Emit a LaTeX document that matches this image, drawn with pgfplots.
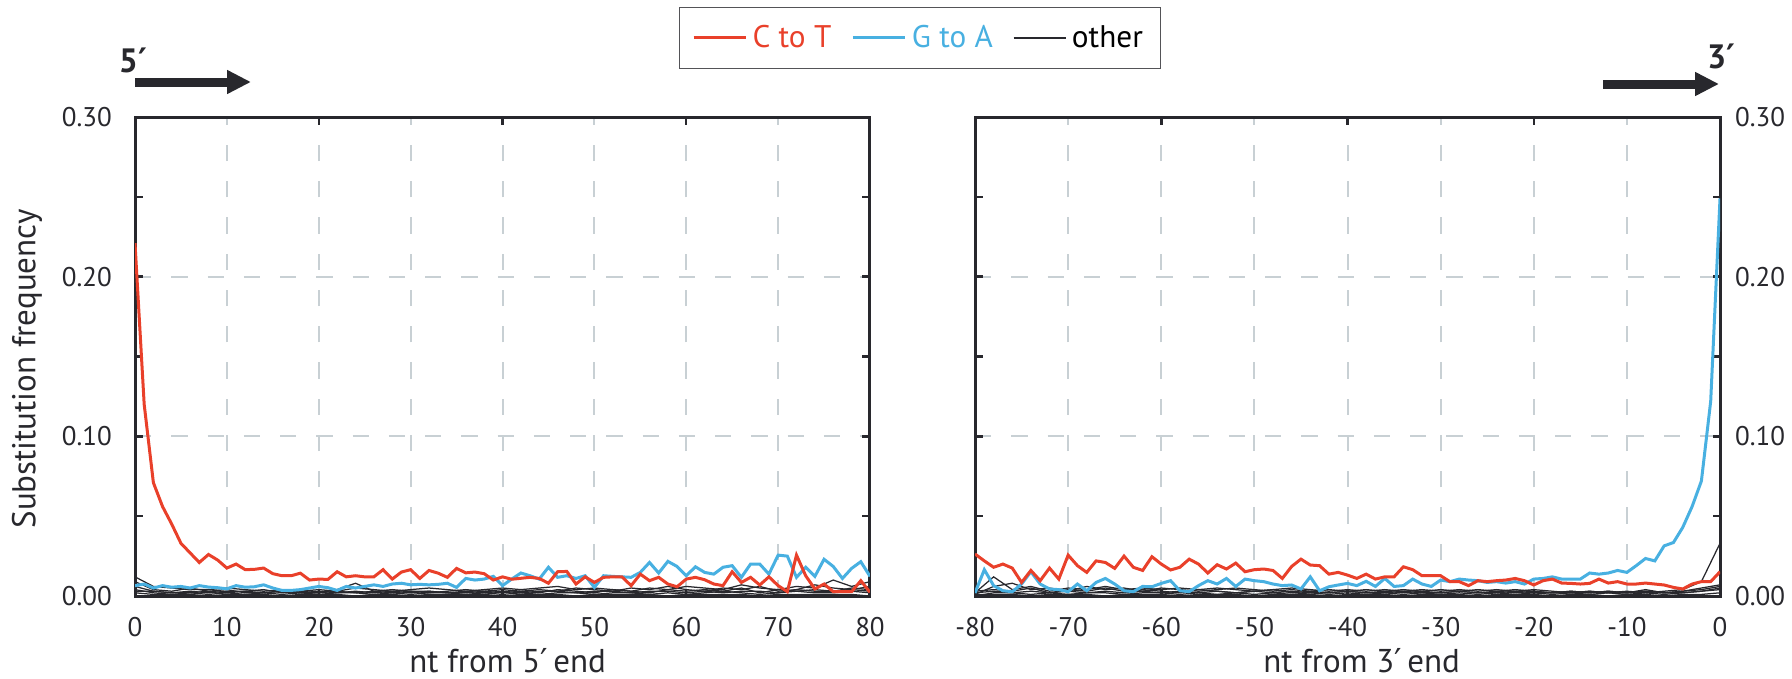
\documentclass[border=0pt]{standalone}
\usepackage{fontspec}
\setmainfont{PT Sans}
\newfontfamily\primefont{DejaVu Sans}
\newcommand{\pr}{{\primefont ′}}
\usepackage{pgfplots}
\usepackage{pgfplotstable}
\pgfplotsset{compat=1.18}
\usetikzlibrary{arrows.meta}
\definecolor{ctred}{RGB}{233,64,42}
\definecolor{gablue}{RGB}{72,176,225}
\definecolor{axcol}{RGB}{40,40,45}
\definecolor{gridcol}{RGB}{200,208,212}

\pgfplotstableread{
x c g
0 0.221 0.0065
1 0.120 0.0075
2 0.071 0.005
3 0.056 0.0065
4 0.045 0.0055
5 0.033 0.006
6 0.027 0.005
7 0.021 0.0065
8 0.026 0.0056
9 0.0225 0.0052
10 0.0175 0.0045
11 0.020 0.0065
12 0.0165 0.0055
13 0.0167 0.0058
14 0.0175 0.007
15 0.014 0.005
16 0.0127 0.0035
17 0.0127 0.0035
18 0.0143 0.004
19 0.010 0.005
20 0.0106 0.006
21 0.0104 0.0052
22 0.0152 0.0035
23 0.012 0.006
24 0.0127 0.005
25 0.012 0.006
26 0.012 0.007
27 0.0165 0.006
28 0.0106 0.0075
29 0.015 0.008
30 0.0165 0.007
31 0.011 0.0073
32 0.016 0.007
33 0.0143 0.0073
34 0.0117 0.008
35 0.0173 0.0054
36 0.0145 0.011
37 0.015 0.010
38 0.014 0.0106
39 0.010 0.0123
40 0.012 0.0065
41 0.0105 0.0106
42 0.0111 0.0144
43 0.0117 0.0127
44 0.011 0.0106
45 0.008 0.018
46 0.0152 0.0117
47 0.0154 0.0127
48 0.0075 0.011
49 0.012 0.0127
50 0.0085 0.0054
51 0.0117 0.0127
52 0.012 0.0123
53 0.012 0.012
54 0.0065 0.0117
55 0.0137 0.0148
56 0.0096 0.021
57 0.0117 0.0144
58 0.0075 0.0217
59 0.0058 0.0185
60 0.0106 0.0127
61 0.0117 0.0183
62 0.0102 0.0148
63 0.0075 0.0137
64 0.0065 0.018
65 0.0152 0.019
66 0.0085 0.0117
67 0.0117 0.020
68 0.0069 0.020
69 0.012 0.0137
70 0.0065 0.0256
71 0.0027 0.025
72 0.0256 0.0117
73 0.0127 0.018
74 0.0044 0.0123
75 0.0075 0.023
76 0.0027 0.0185
77 0.0027 0.011
78 0.0027 0.0173
79 0.0096 0.0215
80 0.0023 0.0123
}\leftmain

\pgfplotstableread{
x c g
-80 0.0263 0.0019
-79 0.022 0.0165
-78 0.018 0.0065
-77 0.020 0.0033
-76 0.0175 0.0027
-75 0.0085 0.0075
-74 0.016 0.0152
-73 0.0096 0.0075
-72 0.0175 0.0044
-71 0.0106 0.004
-70 0.0256 0.0027
-69 0.019 0.0075
-68 0.0148 0.0033
-67 0.022 0.0085
-66 0.021 0.011
-65 0.0173 0.0075
-64 0.025 0.0033
-63 0.018 0.0027
-62 0.016 0.006
-61 0.0246 0.0058
-60 0.020 0.0079
-59 0.0163 0.0096
-58 0.018 0.0033
-57 0.0231 0.0027
-56 0.020 0.0065
-55 0.0144 0.0096
-54 0.0196 0.0075
-53 0.0169 0.011
-52 0.0206 0.006
-51 0.0152 0.0106
-50 0.0165 0.0096
-49 0.0169 0.009
-48 0.016 0.0075
-47 0.011 0.0065
-46 0.0185 0.0069
-45 0.0231 0.0044
-44 0.0194 0.012
-43 0.019 0.0033
-42 0.0137 0.0058
-41 0.0148 0.0069
-40 0.0131 0.0079
-39 0.011 0.0065
-38 0.0137 0.0092
-37 0.0106 0.006
-36 0.012 0.011
-35 0.012 0.006
-34 0.0183 0.0065
-33 0.0165 0.0106
-32 0.0127 0.0075
-31 0.0127 0.006
-30 0.0127 0.010
-29 0.009 0.009
-28 0.009 0.0106
-27 0.0065 0.010
-26 0.0096 0.0096
-25 0.009 0.0085
-24 0.0096 0.009
-23 0.010 0.0081
-22 0.011 0.009
-21 0.0096 0.0075
-20 0.0069 0.0106
-19 0.0096 0.011
-18 0.0106 0.012
-17 0.0081 0.0106
-16 0.0079 0.0106
-15 0.0075 0.0106
-14 0.0079 0.0144
-13 0.0106 0.0137
-12 0.0081 0.0144
-11 0.009 0.016
-10 0.0075 0.0148
-9 0.0075 0.019
-8 0.0081 0.0235
-7 0.0075 0.022
-6 0.0069 0.0314
-5 0.0054 0.0335
-4 0.0044 0.043
-3 0.0075 0.056
-2 0.009 0.072
-1 0.009 0.122
0 0.0152 0.249
}\rightmain

\pgfplotstableread{
x o1 o2 o3 o4 o5 o6
0 .012 .009 .006 .004 .002 .003
2 .006 .004 .003 .002 .001 .003
4 .005 .003 .002 .001 .001 .002
6 .004 .005 .002 .002 .001 .003
8 .004 .003 .003 .001 .000 .002
10 .005 .002 .004 .002 .001 .003
12 .004 .003 .002 .001 .001 .003
14 .003 .004 .002 .002 .001 .002
16 .004 .002 .003 .001 .000 .003
18 .003 .003 .002 .002 .001 .002
20 .004 .002 .003 .001 .001 .002
22 .003 .004 .002 .002 .001 .003
24 .005 .008 .003 .002 .000 .002
26 .004 .003 .002 .001 .001 .003
28 .003 .004 .003 .002 .001 .002
30 .004 .003 .002 .001 .000 .003
32 .005 .002 .003 .002 .001 .003
34 .004 .003 .002 .002 .001 .002
36 .003 .004 .002 .001 .001 .003
38 .004 .003 .003 .002 .001 .002
40 .005 .004 .002 .001 .000 .003
42 .004 .003 .003 .002 .001 .002
44 .005 .004 .002 .001 .001 .003
46 .006 .003 .004 .002 .001 .003
48 .004 .005 .003 .002 .000 .002
50 .005 .004 .002 .001 .001 .003
52 .004 .003 .004 .002 .001 .003
54 .003 .005 .003 .002 .001 .002
56 .005 .004 .002 .001 .001 .003
58 .004 .006 .004 .002 .000 .003
60 .006 .004 .003 .001 .001 .002
62 .005 .003 .004 .002 .001 .003
64 .004 .005 .003 .003 .001 .002
66 .007 .004 .005 .002 .001 .003
68 .005 .006 .002 .001 .000 .003
70 .004 .003 .004 .002 .001 .002
72 .006 .004 .003 .003 .001 .004
74 .005 .007 .004 .002 .001 .003
76 .010 .005 .003 .002 .001 .003
78 .006 .004 .005 .003 .001 .004
80 .009 .006 .004 .002 .000 .003
}\leftother

\pgfplotstableread{
x o1 o2 o3 o4 o5 o6
-80 .002 .001 .003 .000 .001 .002
-78 .012 .006 .004 .002 .001 .003
-76 .004 .008 .003 .002 .001 .002
-74 .006 .004 .005 .001 .000 .003
-72 .003 .005 .002 .002 .001 .002
-70 .005 .003 .004 .001 .001 .003
-68 .004 .006 .003 .002 .001 .002
-66 .006 .004 .005 .002 .000 .003
-64 .004 .005 .003 .001 .001 .002
-62 .005 .003 .004 .002 .001 .003
-60 .004 .005 .003 .002 .001 .002
-58 .005 .004 .002 .001 .000 .003
-56 .004 .003 .004 .002 .001 .002
-54 .005 .004 .003 .001 .001 .003
-52 .004 .005 .002 .002 .001 .002
-50 .003 .004 .003 .001 .000 .003
-48 .004 .003 .004 .002 .001 .002
-46 .005 .004 .002 .001 .001 .003
-44 .004 .003 .003 .002 .001 .002
-42 .003 .004 .002 .001 .000 .002
-40 .004 .003 .003 .002 .001 .003
-38 .003 .004 .002 .001 .001 .002
-36 .004 .003 .003 .002 .001 .002
-34 .003 .004 .002 .001 .000 .003
-32 .004 .003 .003 .002 .001 .002
-30 .003 .004 .002 .001 .001 .002
-28 .004 .003 .003 .002 .001 .003
-26 .003 .004 .002 .001 .000 .002
-24 .004 .003 .003 .002 .001 .002
-22 .003 .004 .002 .001 .001 .003
-20 .004 .003 .003 .002 .001 .002
-18 .003 .002 .002 .001 .000 .002
-16 .002 .003 .003 .002 .001 .002
-14 .003 .002 .002 .001 .001 .003
-12 .002 .003 .003 .002 .000 .002
-10 .003 .002 .002 .001 .001 .002
-8 .002 .004 .003 .002 .001 .003
-6 .003 .002 .002 .001 .000 .002
-4 .004 .003 .003 .002 .001 .002
-2 .009 .005 .004 .003 .001 .003
0 .033 .007 .006 .004 .002 .005
}\rightother

\pgfplotsset{
  panel/.style={
    scale only axis, height=191.6pt,
    ymin=0, ymax=0.3,
    ytick={0,0.1,0.2,0.3},
    minor ytick={0.05,0.1,0.15,0.2,0.25},
    xmajorgrids, ymajorgrids,
    major grid style={gridcol, line width=0.8pt, dash pattern=on 6.5pt off 8pt},
    axis line style={axcol, line width=1.2pt},
    tick style={axcol, line width=1pt},
    major tick length=0pt, minor tick length=3pt,
    tick align=inside,
    /pgf/number format/assume math mode=true,
    y tick label style={/pgf/number format/fixed, /pgf/number format/fixed zerofill, /pgf/number format/precision=2},
    xticklabel style={yshift=-5pt},
    tick label style={font=\fontsize{10.8}{12}\selectfont, text=axcol},
    label style={font=\fontsize{13.2}{15}\selectfont, text=axcol},
    other/.style={axcol, line width=0.5pt},
    legend image code/.code={\draw[##1] (0pt,0pt) -- (21pt,0pt);},
  }
}

\begin{document}
\begin{tikzpicture}
\useasboundingbox (0,0) rectangle (716.8pt,271.2pt);

\begin{axis}[panel, width=294pt, at={(54pt,32.8pt)}, anchor=south west,
  xmin=0, xmax=80, xtick={0,10,...,80}, minor xtick={20,40,60},
  yticklabel style={xshift=-5.7pt},
  xlabel={nt from 5\pr\,end},
  xlabel style={at={(axis description cs:0.507,0)}, anchor=base, yshift=-30.6pt},
  ylabel={Substitution frequency},
  ylabel style={at={(axis description cs:-0.147,0.474)}, anchor=center},
  legend columns=3,
  legend style={at={(axis description cs:1.068,1.165)}, anchor=center,
    draw=axcol!80, line width=0.6pt, inner xsep=5pt, inner ysep=5pt,
    font=\fontsize{12.5}{14}\selectfont,
    /tikz/every even column/.append style={column sep=6pt}},
]
\addlegendimage{ctred, line width=1.2pt}
\addlegendentry{\textcolor{ctred}{C to T}}
\addlegendimage{gablue, line width=1.2pt}
\addlegendentry{\textcolor{gablue}{G to A}}
\addlegendimage{axcol, line width=0.6pt}
\addlegendentry{other}
\addplot[other, forget plot] table[x=x, y=o1] {\leftother};
\addplot[other, forget plot] table[x=x, y=o2] {\leftother};
\addplot[other, forget plot] table[x=x, y=o3] {\leftother};
\addplot[other, forget plot] table[x=x, y=o4] {\leftother};
\addplot[other, forget plot] table[x=x, y=o5] {\leftother};
\addplot[other, forget plot] table[x=x, y=o6] {\leftother};
\addplot[gablue, line width=1.2pt, forget plot] table[x=x, y=g] {\leftmain};
\addplot[ctred, line width=1.2pt, forget plot] table[x=x, y=c] {\leftmain};
\end{axis}

\begin{axis}[panel, width=298pt, at={(390pt,32.8pt)}, anchor=south west,
  xmin=-80, xmax=0, xtick={-80,-70,...,0}, minor xtick={-60,-40,-20},
  yticklabel pos=right,
  yticklabel style={xshift=2.5pt},
  xlabel={nt from 3\pr\,end},
  xlabel style={at={(axis description cs:0.519,0)}, anchor=base, yshift=-30.6pt},
]
\addplot[other] table[x=x, y=o1] {\rightother};
\addplot[other] table[x=x, y=o2] {\rightother};
\addplot[other] table[x=x, y=o3] {\rightother};
\addplot[other] table[x=x, y=o4] {\rightother};
\addplot[other] table[x=x, y=o5] {\rightother};
\addplot[other] table[x=x, y=o6] {\rightother};
\addplot[gablue, line width=1.2pt] table[x=x, y=g] {\rightmain};
\addplot[ctred, line width=1.2pt] table[x=x, y=c] {\rightmain};
\end{axis}

\draw[axcol, line width=3.6pt, -{Triangle[length=9.6pt, width=9pt]}] (54pt,238.4pt) -- (100.4pt,238.4pt);
\node[text=axcol, font=\bfseries\fontsize{13.5}{15}\selectfont, inner sep=0pt] at (53.2pt,247pt) {5\pr};
\draw[axcol, line width=3.6pt, -{Triangle[length=9.6pt, width=9pt]}] (641.2pt,237.6pt) -- (687.6pt,237.6pt);
\node[text=axcol, font=\bfseries\fontsize{13.5}{15}\selectfont, inner sep=0pt] at (688.4pt,248.5pt) {3\pr};
\end{tikzpicture}
\end{document}
